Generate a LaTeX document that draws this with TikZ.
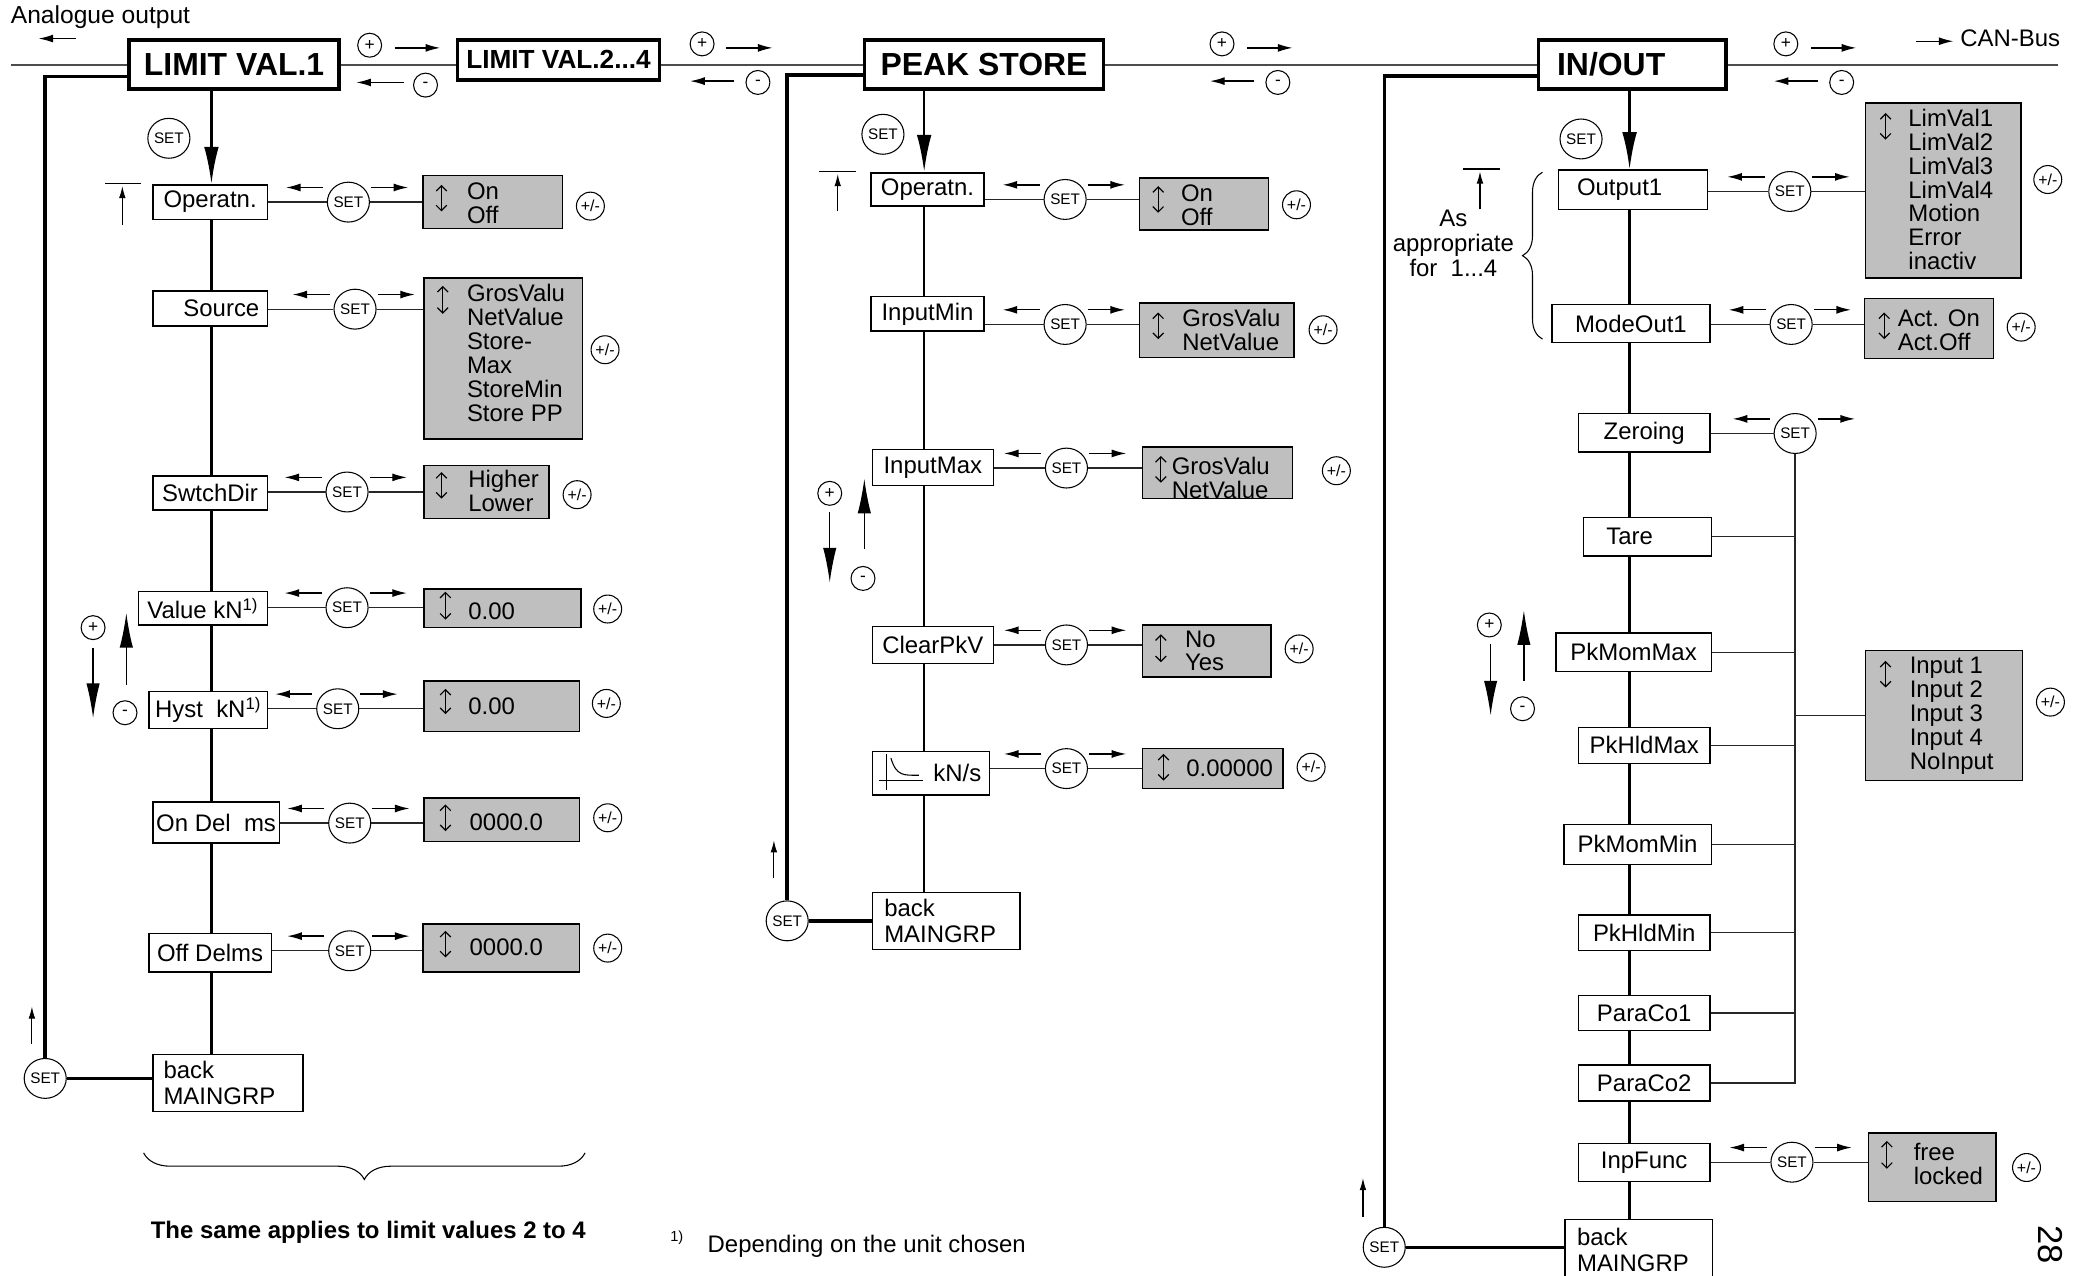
\documentclass[tikz,border=0pt]{standalone}
\usepackage{fontspec}
\setmainfont{Liberation Sans}
\usetikzlibrary{arrows.meta,decorations.pathreplacing,calc,shapes.geometric}
\definecolor{optgray}{gray}{0.75}
\newcommand\fsz[1]{\fontsize{#1}{#1}\selectfont}
\newcommand\setarr[1]{\draw[sarr] ($(#1)+(-19,-11)$) -- ++(-28,0); \draw[sarr] ($(#1)+(17,-11)$) -- ++(28,0);}
\begin{document}
\begin{tikzpicture}[x=1pt,y=-1pt,
  menu/.style={draw, line width=1.1pt, fill=white, inner sep=0pt, font=\fsz{18}},
  menutwo/.style={draw, line width=1.1pt, fill=white, inner sep=0pt, font=\fontsize{18}{20}\selectfont, align=left},
  hdr/.style={draw, line width=2.6pt, fill=white, inner sep=0pt, font=\bfseries\fsz{24}},
  optbox/.style={draw, line width=1.1pt, fill=optgray, inner sep=0pt},
  opttxt/.style={anchor=west, align=left, inner sep=0pt, font=\fontsize{18}{18}\selectfont},
  txt/.style={inner sep=0pt, font=\fsz{18}},
  setc/.style={ellipse, draw, line width=0.8pt, minimum width=27pt, minimum height=30pt, inner sep=0pt, font=\fsz{11.5}},
  pmc/.style={circle, draw, line width=0.8pt, minimum size=21pt, inner sep=0pt, font=\fsz{12}},
  sgn/.style={circle, draw, line width=0.8pt, minimum size=18pt, inner sep=0pt, font=\fsz{13}},
  conn/.style={line width=1pt, draw=black!85},
  mline/.style={line width=1pt, draw=black!70},
  trunk/.style={line width=2pt},
  ret/.style={line width=2.6pt},
  sarr/.style={line width=1pt, -{Latex[length=11pt,width=6pt]}},
  tarr/.style={line width=0.8pt, -{Latex[length=9pt,width=5pt]}},
  bigarr/.style={line width=1pt, -{Latex[length=26pt,width=10pt]}},
  mainarr/.style={line width=2pt, -{Latex[length=28pt,width=11pt]}},
  updn/.style={line width=0.9pt, {Straight Barb[length=4pt,width=8pt]}-{Straight Barb[length=4pt,width=8pt]}},
  tbar/.style={line width=1.2pt}
]
\useasboundingbox (0,0) rectangle (1568,959);

% ---------------- top row ----------------
\node[txt, anchor=west, font=\fsz{18.5}] (ao) at (8,13) {Analogue output};
\draw[sarr] (57,29) -- (29,29);
\node[hdr, minimum width=158pt, minimum height=37pt] (L1) at (176,48.5) {LIMIT VAL.1};
\node[hdr, font=\bfseries\fsz{19.7}, minimum width=152pt, minimum height=30pt] (L2) at (420,45) {LIMIT VAL.2...4};
\node[hdr, minimum width=180pt, minimum height=37pt] (PS) at (740,48.5) {PEAK STORE};
\node[hdr, minimum width=141pt, minimum height=37pt, text width=113pt, align=left, inner xsep=14pt] (IO) at (1227.5,48.5) {IN/OUT};
\coordinate (aoend) at (8,49);
\coordinate (canend) at (1548,49);
\draw[mline] (aoend) -- (aoend -| L1.west);
\draw[mline] (L1.east |- aoend) -- (L2.west |- aoend);
\draw[mline] (L2.east |- aoend) -- (PS.west |- aoend);
\draw[mline] (PS.east |- aoend) -- (IO.west |- aoend);
\draw[mline] (IO.east |- aoend) -- (canend);

\node[sgn] (s1p) at (278,34) {+}; \draw[sarr] (297,36) -- (331,36);
\node[sgn] (s1m) at (320,64) {-}; \draw[sarr] (304,62) -- (268,62);
\node[sgn] (s2p) at (528,33) {+}; \draw[sarr] (546,36) -- (581,36);
\node[sgn] (s2m) at (570,62) {-}; \draw[sarr] (552,61) -- (519,61);
\node[sgn] (s3p) at (919,33) {+}; \draw[sarr] (938,36) -- (972,36);
\node[sgn] (s3m) at (961,62) {-}; \draw[sarr] (943,61) -- (910,61);
\node[sgn] (s4p) at (1343,33) {+}; \draw[sarr] (1362,36) -- (1396,36);
\node[sgn] (s4m) at (1385,62) {-}; \draw[sarr] (1367,61) -- (1334,61);
\draw[sarr] (1441,31) -- (1469,31);
\node[txt, anchor=west] (can) at (1474,29) {CAN-Bus};

% ---------------- LIMIT VAL.1 column ----------------
\coordinate (t1) at (159,0);
\node[setc] (as0) at (127,104) {SET};
\draw[tbar] (79,138) -- (106,138); \draw[tarr] (92,169) -- (92,140);
\node[menu, minimum width=86pt, minimum height=26pt] (a1) at (158,152) {Operatn.};
\node[menu, minimum width=86pt, minimum height=26pt, text width=74pt, align=right, inner xsep=6pt] (a2) at (158,232) {Source};
\node[menu, minimum width=86pt, minimum height=25.5pt] (a3) at (158,370.75) {SwtchDir};
\node[menu, minimum width=97pt, minimum height=25pt] (a4) at (152.5,457.5) {Value kN\textsuperscript{1)}};
\node[menu, minimum width=89pt, minimum height=28pt] (a5) at (156.5,534) {Hyst\ \ kN\textsuperscript{1)}};
\node[menu, minimum width=95pt, minimum height=31pt] (a6) at (162.5,618.5) {On Del\ \ ms};
\node[menu, minimum width=92pt, minimum height=29pt] (a7) at (158,716.5) {Off Delms};
\node[menutwo, minimum width=113pt, minimum height=43pt, text width=97pt, inner xsep=8pt] (a8) at (171.5,814.5) {back\\MAINGRP};
\draw[mainarr] (L1.south -| t1) -- (a1.north -| t1);
\foreach \p/\q in {a1/a2,a2/a3,a3/a4,a4/a5,a5/a6,a6/a7,a7/a8}
  \draw[trunk] (\p.south -| t1) -- (\q.north -| t1);

\node[setc] (as1) at (262,152) {SET};
\node[optbox, minimum width=105pt, minimum height=40pt] (ao1) at (370.5,152) {};
\node[opttxt] (at1) at (351,152.75) {On\\Off};
\draw[updn] (332,139) -- (332,159);
\node[pmc] (ap1) at (444,155) {+/-};

\node[setc] (as2) at (267,232.5) {SET};
\node[optbox, minimum width=119pt, minimum height=121pt] (ao2) at (378.5,269.5) {};
\node[opttxt] (at2) at (351,265.25) {GrosValu\\NetValue\\Store-\\Max\\StoreMin\\Store PP};
\draw[updn] (333,215) -- (333,236);
\node[pmc] (ap2) at (455,263) {+/-};

\node[setc] (as3) at (261,370) {SET};
\node[optbox, minimum width=94pt, minimum height=40pt] (ao3) at (366,370) {};
\node[opttxt] (at3) at (352,369.5) {Higher\\Lower};
\draw[updn] (332,355) -- (332,375);
\node[pmc] (ap3) at (434,372) {+/-};

\node[setc] (as4) at (261,457) {SET};
\node[optbox, minimum width=118pt, minimum height=29pt] (ao4) at (378,457.5) {};
\node[opttxt] (at4) at (352,460) {0.00};
\draw[updn] (335,445) -- (335,466);
\node[pmc] (ap4) at (457,458) {+/-};

\node[setc] (as5) at (254,533) {SET};
\node[optbox, minimum width=117pt, minimum height=38pt] (ao5) at (377.5,531) {};
\node[opttxt] (at5) at (352,531) {0.00};
\draw[updn] (335,518) -- (335,537);
\node[pmc] (ap5) at (456,529) {+/-};

\node[setc] (as6) at (263,619) {SET};
\node[optbox, minimum width=117pt, minimum height=33pt] (ao6) at (377.5,616.5) {};
\node[opttxt] (at6) at (353,618) {0000.0};
\draw[updn] (335,605) -- (335,625);
\node[pmc] (ap6) at (457,615) {+/-};

\node[setc] (as7) at (263,715) {SET};
\node[optbox, minimum width=118pt, minimum height=36pt] (ao7) at (377,713) {};
\node[opttxt] (at7) at (353,712) {0000.0};
\draw[updn] (335,700) -- (335,720);
\node[pmc] (ap7) at (457,713) {+/-};

\foreach \i in {1,...,7} {
  \draw[conn] (a\i.east |- as\i) -- (as\i);
  \draw[conn] (as\i) -- (as\i -| ao\i.west);
  \setarr{as\i}
}

\node[sgn] (lp) at (70,472) {+};
\node[sgn] (lm) at (94,536) {-};
\draw[bigarr] (70,487) -- (70,540);
\draw[bigarr] (95,515) -- (95,461);

\node[setc] (L1s) at (34,811) {SET};
\draw[ret] ($(L1.west)+(0,9)$) -| (L1s);
\draw[ret] (L1s) -- (L1s -| a8.west);
\draw[tarr] (24,785) -- (24,757);

\draw[decorate, decoration={brace, mirror, amplitude=20pt}, line width=0.8pt] (108,867) -- (440,867);
\node[txt, font=\bfseries\fsz{18}] (same) at (277,927) {The same applies to limit values 2 to 4};
\node[txt, font=\fsz{11}] (fn1) at (509,931) {1)};
\node[txt, anchor=west] (dep) at (532,937) {Depending on the unit chosen};

% ---------------- PEAK STORE column ----------------
\coordinate (t2) at (695,0);
\node[setc] (bs0) at (664,101) {SET};
\draw[tbar] (616,129) -- (644,129); \draw[tarr] (630,159) -- (630,131);
\node[menu, minimum width=85pt, minimum height=25pt] (b1) at (697.5,142.5) {Operatn.};
\node[menu, minimum width=85pt, minimum height=26pt] (b2) at (697.5,236) {InputMin};
\node[menu, minimum width=91pt, minimum height=27pt] (b3) at (701.5,351.5) {InputMax};
\node[menu, minimum width=91pt, minimum height=28pt] (b4) at (701.5,485) {ClearPkV};
\node[menu, minimum width=88pt, minimum height=33pt, text width=76pt, align=right, inner xsep=6pt] (b5) at (700,581.5) {kN/s};
\node[menutwo, minimum width=111pt, minimum height=43pt, text width=93pt, inner xsep=9pt] (b6) at (711.5,692.5) {back\\MAINGRP};
\draw[mainarr] (PS.south -| t2) -- (b1.north -| t2);
\foreach \p/\q in {b1/b2,b2/b3,b3/b4,b4/b5,b5/b6}
  \draw[trunk] (\p.south -| t2) -- (\q.north -| t2);
% ramp icon
\draw[line width=0.8pt] (666.5,567) -- (666.5,594);
\draw[line width=0.8pt] (661,587) -- (694,587);
\draw[line width=0.8pt] (670,570) .. controls (674,584) and (680,583) .. (691,583);

\node[setc] (bs1) at (801,150) {SET};
\node[optbox, minimum width=97pt, minimum height=39pt] (bo1) at (905.5,153.5) {};
\node[opttxt] (bt1) at (888,154.5) {On\\Off};
\draw[updn] (871,140) -- (871,160);
\node[pmc] (bp1) at (975,154) {+/-};

\node[setc] (bs2) at (801,244) {SET};
\node[optbox, minimum width=116pt, minimum height=41pt] (bo2) at (915,248.5) {};
\node[opttxt] (bt2) at (889,248) {GrosValu\\NetValue};
\draw[updn] (871,235) -- (871,255);
\node[pmc] (bp2) at (995,248) {+/-};

\node[setc] (bs3) at (802,352) {SET};
\node[optbox, minimum width=113pt, minimum height=39pt] (bo3) at (915.5,355.5) {};
\node[opttxt] (bt3) at (881,359.5) {GrosValu\\NetValue};
\draw[updn] (873,343) -- (873,363);
\node[pmc] (bp3) at (1005,354) {+/-};

\node[setc] (bs4) at (802,485) {SET};
\node[optbox, minimum width=97pt, minimum height=39pt] (bo4) at (907.5,489.5) {};
\node[opttxt] (bt4) at (891,489.5) {No\\Yes};
\draw[updn] (873,477) -- (873,498);
\node[pmc] (bp4) at (977,488) {+/-};

\node[setc] (bs5) at (802,578) {SET};
\node[optbox, minimum width=106pt, minimum height=30pt] (bo5) at (912,578) {};
\node[opttxt] (bt5) at (892,578) {0.00000};
\draw[updn] (875,567) -- (875,587);
\node[pmc] (bp5) at (986,577) {+/-};

\foreach \i in {1,...,5} {
  \draw[conn] (b\i.east |- bs\i) -- (bs\i);
  \draw[conn] (bs\i) -- (bs\i -| bo\i.west);
  \setarr{bs\i}
}

\node[sgn] (pp) at (624,371) {+};
\node[sgn] (pm) at (649,435) {-};
\draw[bigarr] (624,385) -- (624,438);
\draw[bigarr] (650,413) -- (650,360);

\node[setc] (PSs) at (592,692.5) {SET};
\draw[ret] ($(PS.west)+(0,8)$) -| (PSs);
\draw[ret] (PSs) -- (b6);
\draw[tarr] (582,660) -- (582,632);

% ---------------- IN/OUT column ----------------
\coordinate (t3) at (1225.5,0);
\node[setc] (cs0) at (1189,104.5) {SET};
\draw[tbar] (1100,127) -- (1128,127); \draw[tarr] (1113,157.5) -- (1113,129);
\node[txt, align=center, font=\fontsize{18}{19}\selectfont] (asap) at (1093,183) {As\\appropriate\\for\ \ 1...4};
\draw[decorate, decoration={brace, mirror, amplitude=15pt}, line width=0.8pt] (1160,129.5) -- (1160,255);

\node[menu, minimum width=112pt, minimum height=29.5pt, text width=84pt, align=left, inner xsep=14pt] (c1) at (1228,142.75) {Output1};
\node[menu, minimum width=119pt, minimum height=28.5pt] (c2) at (1226.5,243.25) {ModeOut1};
\node[menu, minimum width=99pt, minimum height=29pt] (c3) at (1236.5,325.5) {Zeroing};
\node[menu, minimum width=96pt, minimum height=29pt, text width=62pt, align=left, inner xsep=17pt] (c4) at (1239,403.5) {Tare};
\node[menu, minimum width=117pt, minimum height=29pt] (c5) at (1228.5,490.5) {PkMomMax};
\node[menu, minimum width=99pt, minimum height=27pt] (c6) at (1236.5,560.5) {PkHldMax};
\node[menu, minimum width=111pt, minimum height=30pt] (c7) at (1231.5,635) {PkMomMin};
\node[menu, minimum width=99pt, minimum height=27pt] (c8) at (1236.5,701.5) {PkHldMin};
\node[menu, minimum width=99pt, minimum height=26.5pt] (c9) at (1236.5,761.75) {ParaCo1};
\node[menu, minimum width=99pt, minimum height=27pt] (c10) at (1236.5,814.5) {ParaCo2};
\node[menu, minimum width=99pt, minimum height=28.5pt] (c11) at (1236.5,874.25) {InpFunc};
\node[menutwo, minimum width=111pt, minimum height=46pt, text width=93pt, inner xsep=9pt] (c12) at (1232.5,940) {back\\MAINGRP};
\draw[mainarr] (IO.south -| t3) -- (c1.north -| t3);
\foreach \p/\q in {c1/c2,c2/c3,c3/c4,c4/c5,c5/c6,c6/c7,c7/c8,c8/c9,c9/c10,c10/c11,c11/c12}
  \draw[trunk] (\p.south -| t3) -- (\q.north -| t3);

\node[setc] (cs1) at (1346,144) {SET};
\node[optbox, minimum width=117pt, minimum height=131.5pt] (co1) at (1461.5,143.25) {};
\node[opttxt, font=\fontsize{18}{17.9}\selectfont] (ct1) at (1435,142.5) {LimVal1\\LimVal2\\LimVal3\\LimVal4\\Motion\\Error\\inactiv};
\draw[updn] (1418,85) -- (1418,105);
\node[pmc] (cp1) at (1540,135) {+/-};

\node[setc] (cs2) at (1347,244) {SET};
\node[optbox, minimum width=97pt, minimum height=45pt] (co2) at (1450.5,247) {};
\node[opttxt] (ct2) at (1427,248.5) {Act. On\\Act.Off};
\draw[updn] (1417,235) -- (1417,255);
\node[pmc] (cp2) at (1520,246) {+/-};

\node[setc] (cs11) at (1347.6,874) {SET};
\node[optbox, minimum width=96pt, minimum height=51.5pt] (co11) at (1453,877.75) {};
\node[opttxt] (ct11) at (1439,875.5) {free\\locked};
\draw[updn] (1419,858) -- (1419,879);
\node[pmc] (cp11) at (1524,878) {+/-};

\foreach \i in {1,2,11} {
  \draw[conn] (c\i.east |- cs\i) -- (cs\i);
  \draw[conn] (cs\i) -- (cs\i -| co\i.west);
  \setarr{cs\i}
}

\node[setc] (cs3) at (1350,326) {SET};
\draw[conn] (c3.east |- cs3) -- (cs3);
\setarr{cs3}
\coordinate (zb) at (1350,815.5);
\draw[conn] (cs3) -- (zb);
\foreach \n in {c4,c5,c6,c7,c8,c9,c10}
  \draw[conn] (\n.east) -- (\n.east -| zb);
\node[optbox, minimum width=118pt, minimum height=98pt] (inp) at (1462,538) {};
\node[opttxt] (inpt) at (1436,538.5) {Input 1\\Input 2\\Input 3\\Input 4\\NoInput};
\draw[updn] (1418,497) -- (1418,517);
\node[pmc] (inpp) at (1542,528) {+/-};
\draw[conn] (zb |- inp.west) -- (inp.west);

\node[sgn] (ip) at (1120,470) {+};
\node[sgn] (im) at (1145,533) {-};
\draw[bigarr] (1121,484) -- (1121,538);
\draw[bigarr] (1146,512) -- (1146,459);

\node[setc] (IOs) at (1041,938) {SET};
\draw[ret] ($(IO.west)+(0,8.5)$) -| (IOs);
\draw[ret] (IOs) -- (IOs -| c12.west);
\draw[tarr] (1025,915) -- (1025,886);

\node[txt, rotate=-90, font=\fsz{26}] (pg) at (1542,936) {28};
\end{tikzpicture}
\end{document}
